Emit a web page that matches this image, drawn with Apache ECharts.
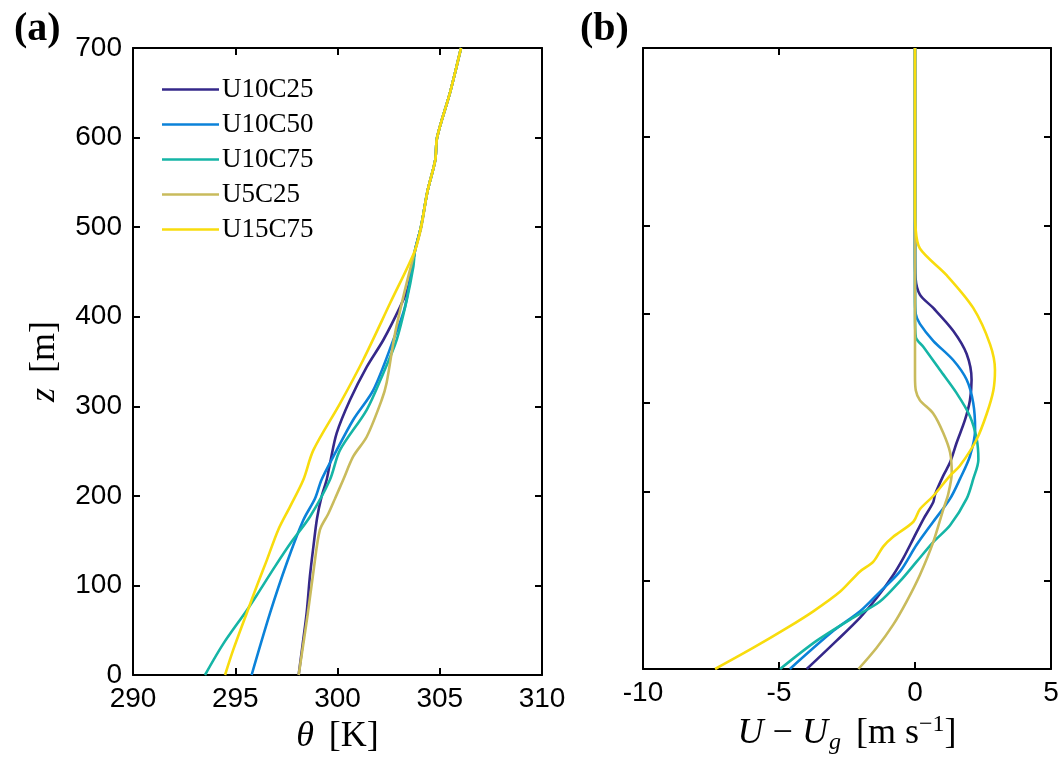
<!DOCTYPE html>
<html>
<head>
<meta charset="utf-8">
<script src="https://cdn.jsdelivr.net/npm/echarts@6/dist/echarts.min.js"></script>
<style>
  html, body { margin: 0; padding: 0; background: #fff; }
  #main { width: 1062px; height: 760px; }
</style>
</head>
<body>
<div id="main"></div>
<script>
// run names and colours
var runNames = ['U10C25', 'U10C50', 'U10C75', 'U5C25', 'U15C75'];
var runColors = ['#35288a', '#0b82d9', '#15b5a6', '#c9bb5c', '#f8dc0d'];

// panel (a): potential temperature profiles (z in m, theta in K)
var zA_U10C25 = [0, 35, 69, 110, 143, 175, 199, 218, 236, 270, 307, 344, 374, 411, 433, 474, 500, 540, 575, 600, 650, 700];
var thA_U10C25 = [298.1, 298.3, 298.49, 298.65, 298.82, 299.0, 299.22, 299.47, 299.63, 299.96, 300.61, 301.43, 302.24, 303.06, 303.46, 303.79, 304.08, 304.4, 304.78, 304.87, 305.5, 306.04];

var zA_U10C50 = [0, 69, 125, 173, 197, 218, 244, 285, 318, 374, 411, 474, 500, 540, 575, 600, 650, 700];
var thA_U10C50 = [295.8, 296.7, 297.52, 298.33, 298.9, 299.22, 299.8, 300.77, 301.75, 302.73, 303.3, 303.79, 304.08, 304.4, 304.78, 304.87, 305.5, 306.04];

var zA_U10C75 = [0, 35, 72, 89, 121, 149, 177, 218, 251, 296, 337, 374, 418, 456, 474, 500, 540, 575, 600, 650, 700];
var thA_U10C75 = [293.52, 294.42, 295.56, 296.05, 296.94, 297.76, 298.66, 299.63, 300.12, 301.43, 302.24, 302.89, 303.38, 303.71, 303.79, 304.08, 304.4, 304.78, 304.87, 305.5, 306.04];

var zA_U5C25 = [0, 69, 120, 162, 180, 197, 218, 244, 266, 307, 326, 381, 430, 467, 474, 500, 540, 575, 600, 650, 700];
var thA_U5C25 = [298.1, 298.55, 298.85, 299.14, 299.55, 299.88, 300.28, 300.77, 301.43, 302.16, 302.4, 302.81, 303.3, 303.71, 303.79, 304.1, 304.4, 304.78, 304.87, 305.5, 306.04];

var zA_U15C75 = [0, 28, 69, 99, 128, 162, 188, 218, 251, 303, 352, 415, 474, 500, 540, 575, 600, 650, 700];
var thA_U15C75 = [294.5, 294.9, 295.56, 296.05, 296.54, 297.1, 297.68, 298.33, 298.82, 300.12, 301.26, 302.57, 303.79, 304.08, 304.4, 304.78, 304.87, 305.5, 306.04];

// panel (b): U - Ug profiles (m/s)
var zB_U10C25 = [0, 32, 58, 80, 106, 125, 147, 169, 188, 197, 218, 233, 255, 281, 303, 326, 355, 381, 407, 422, 441, 470, 500, 600, 700];
var uB_U10C25 = [-3.98, -2.88, -2.02, -1.41, -0.8, -0.43, -0.06, 0.31, 0.67, 0.74, 1.04, 1.29, 1.53, 1.84, 2.02, 2.08, 1.9, 1.41, 0.67, 0.18, 0.02, 0, 0, 0, 0];

var zB_U10C50 = [0, 43, 65, 87, 110, 140, 166, 192, 214, 240, 270, 300, 326, 348, 370, 389, 400, 420, 500, 700];
var uB_U10C50 = [-4.6, -3.0, -2.02, -1.29, -0.55, 0.06, 0.67, 1.29, 1.65, 2.02, 2.21, 2.14, 1.9, 1.41, 0.67, 0.18, 0.03, 0, 0, 0];

var zB_U10C75 = [0, 32, 58, 76, 99, 121, 143, 162, 192, 214, 236, 259, 285, 311, 337, 363, 374, 400, 700];
var uB_U10C75 = [-4.96, -3.61, -2.27, -1.29, -0.55, 0.06, 0.67, 1.29, 1.9, 2.14, 2.33, 2.27, 2.02, 1.53, 0.92, 0.31, 0.03, 0, 0];

var zB_U5C25 = [0, 24, 50, 76, 106, 143, 180, 197, 221, 244, 266, 288, 303, 314, 330, 700];
var uB_U5C25 = [-2.08, -1.41, -0.8, -0.31, 0.18, 0.67, 1.04, 1.22, 1.35, 1.29, 1.04, 0.67, 0.18, 0.03, 0, 0];

var zB_U15C75 = [0, 24, 46, 65, 87, 110, 121, 138, 149, 166, 180, 195, 218, 229, 259, 288, 314, 337, 366, 407, 444, 474, 497, 520, 700];
var uB_U15C75 = [-7.35, -5.94, -4.72, -3.74, -2.76, -2.02, -1.53, -1.17, -0.8, -0.06, 0.18, 0.67, 1.29, 1.65, 2.27, 2.64, 2.88, 2.94, 2.76, 2.14, 1.16, 0.18, 0.02, 0, 0];

// axis ticks [min, max, step]
var thetaTicks = [290, 310, 5];
var uTicks = [-10, 5, 5];
var zTicks = [0, 700, 100];

var profA = [[thA_U10C25, zA_U10C25], [thA_U10C50, zA_U10C50], [thA_U10C75, zA_U10C75], [thA_U5C25, zA_U5C25], [thA_U15C75, zA_U15C75]];
var profB = [[uB_U10C25, zB_U10C25], [uB_U10C50, zB_U10C50], [uB_U10C75, zB_U10C75], [uB_U5C25, zB_U5C25], [uB_U15C75, zB_U15C75]];

function pairs(xs, zs) {
	var out = [];
	for (var i = 0; i < xs.length; i++) {
		out.push([xs[i], zs[i]]);
	}
	return out;
}

var tickFont = 'Liberation Sans';
var serif = 'Liberation Serif';
var nameRich = {
	i: { fontFamily: serif, fontStyle: 'italic', fontSize: 36, color: '#000' },
	r: { fontFamily: serif, fontSize: 36, color: '#000' },
	op: { fontFamily: serif, fontSize: 36, color: '#000', padding: [0, 9, 0, 9] },
	sub: { fontFamily: serif, fontStyle: 'italic', fontSize: 24, color: '#000', verticalAlign: 'bottom', padding: [18, 0, 0, 1] },
	sup: { fontFamily: serif, fontSize: 24, color: '#000', verticalAlign: 'top', padding: [0, 0, 14, 0] },
	gap: { fontSize: 36, padding: [0, 6, 0, 0] }
};

function xAx(grid, t, pos, showLabel, name) {
	return {
		type: 'value', gridIndex: grid, position: pos,
		min: t[0], max: t[1], interval: t[2],
		axisLine: { show: true, onZero: false, lineStyle: { color: '#000', width: 2 } },
		axisTick: { show: true, inside: true, length: 7, lineStyle: { color: '#000', width: 2 } },
		axisLabel: { show: showLabel, color: '#000', fontFamily: tickFont, fontSize: 28, margin: 10 },
		splitLine: { show: false },
		name: name || '',
		nameLocation: 'middle',
		nameGap: 44,
		nameTextStyle: { color: '#000', fontFamily: serif, fontSize: 36, rich: nameRich }
	};
}

function yAx(grid, pos, showLabel, name) {
	return {
		type: 'value', gridIndex: grid, position: pos,
		min: zTicks[0], max: zTicks[1], interval: zTicks[2],
		axisLine: { show: true, onZero: false, lineStyle: { color: '#000', width: 2 } },
		axisTick: { show: true, inside: true, length: 7, lineStyle: { color: '#000', width: 2 } },
		axisLabel: { show: showLabel, color: '#000', fontFamily: tickFont, fontSize: 28, margin: 11 },
		splitLine: { show: false },
		name: name || '',
		nameLocation: 'middle',
		nameGap: 70,
		nameTextStyle: { color: '#000', fontFamily: serif, fontSize: 36, rich: nameRich }
	};
}

var series = [];
for (var k = 0; k < runNames.length; k++) {
	series.push({
		name: runNames[k], type: 'line', xAxisIndex: 0, yAxisIndex: 0,
		data: pairs(profA[k][0], profA[k][1]),
		symbol: 'none', smooth: 0.3,
		lineStyle: { color: runColors[k], width: 2.6 },
		itemStyle: { color: runColors[k] },
		z: 2 + k
	});
}
for (var k = 0; k < runNames.length; k++) {
	series.push({
		name: runNames[k], type: 'line', xAxisIndex: 2, yAxisIndex: 2,
		data: pairs(profB[k][0], profB[k][1]),
		symbol: 'none', smooth: 0.3,
		lineStyle: { color: runColors[k], width: 2.6 },
		itemStyle: { color: runColors[k] },
		z: 2 + k
	});
}

var myChart = echarts.init(document.getElementById('main'), null, { renderer: 'canvas' });
var option = {
	backgroundColor: '#fff',
	animation: false,
	title: [
		{ text: '(a)', left: 9, top: 5, textStyle: { fontFamily: serif, fontWeight: 'bold', fontSize: 40, color: '#000' } },
		{ text: '(b)', left: 575, top: 5, textStyle: { fontFamily: serif, fontWeight: 'bold', fontSize: 40, color: '#000' } }
	],
	legend: {
		data: runNames,
		orient: 'vertical',
		left: 157, top: 71,
		itemWidth: 57, itemHeight: 14, itemGap: 8,
		icon: 'path://M0,6 L57,6 L57,8.5 L0,8.5 Z',
		textStyle: { fontFamily: serif, fontSize: 27, color: '#000', lineHeight: 26, padding: [0, 0, 0, -2] }
	},
	grid: [
		{ left: 133, top: 48, width: 409, height: 627 },
		{ left: 643, top: 48, width: 408, height: 627 }
	],
	xAxis: [
		xAx(0, thetaTicks, 'bottom', true, '{i|θ}{gap| }{r|[K]}'),
		xAx(0, thetaTicks, 'top', false),
		xAx(1, uTicks, 'bottom', true, '{i|U}{op|−}{i|U}{sub|g}{gap| }{r|[m s}{sup|−1}{r|]}'),
		xAx(1, uTicks, 'top', false)
	],
	yAxis: [
		yAx(0, 'left', true, '{i|z}{gap| }{r|[m]}'),
		yAx(0, 'right', false),
		yAx(1, 'left', false),
		yAx(1, 'right', false)
	],
	series: series
};
myChart.setOption(option);
</script>
</body>
</html>
